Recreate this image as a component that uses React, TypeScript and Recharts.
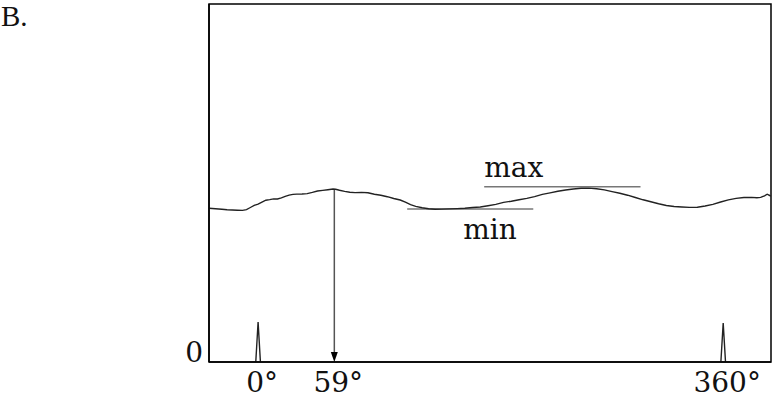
import React from 'react';
import { LineChart, Line, XAxis, YAxis, ReferenceArea, ReferenceLine, Customized } from 'recharts';

// angle (deg) of the encoder trace and its level
const traceDeg = [-38, -33, -28, -24, -20, -16, -12, -9, -6, -3, 0, 3, 6, 9, 12, 15, 18, 21, 24, 27, 30, 34, 38, 42, 46, 50, 54, 58, 60, 63, 67, 71, 75, 80, 85, 90, 95, 100, 105, 110, 114, 118, 122, 127, 132, 137, 142, 148, 154, 160, 166, 172, 178, 184, 190, 196, 202, 208, 214, 220, 226, 232, 238, 244, 250, 256, 262, 268, 274, 280, 286, 292, 298, 304, 310, 316, 322, 328, 334, 340, 346, 352, 358, 364, 370, 376, 382, 386, 389, 392, 394, 396, 397];
const traceVal = [153.7, 153.2, 152.8, 152.3, 152.0, 151.8, 151.6, 152.4, 154.5, 156.6, 157.8, 159.9, 161.8, 162.4, 163.1, 163.0, 164.2, 165.6, 166.9, 167.6, 167.9, 168.0, 168.4, 169.6, 171.0, 171.6, 172.3, 173.0, 172.8, 171.8, 170.6, 169.7, 169.4, 169.6, 169.2, 167.8, 166.7, 165.3, 163.5, 162.0, 159.8, 157.3, 155.6, 154.2, 153.3, 152.8, 152.9, 153.1, 153.4, 153.8, 154.5, 155.0, 156.3, 157.6, 159.6, 160.8, 162.3, 163.6, 165.4, 167.6, 169.1, 170.7, 172.0, 173.0, 173.7, 173.9, 173.2, 172.1, 170.4, 168.8, 166.8, 164.5, 162.2, 160.3, 158.2, 156.5, 155.5, 155.0, 154.6, 154.8, 156.0, 157.6, 160.0, 162.1, 163.6, 164.5, 164.6, 164.3, 164.6, 166.2, 167.8, 166.5, 166.0];

// index pulses at 0 and 360 deg
const pulseDeg = [-1.8, 0, 1.8, 180, 358.2, 360, 361.8];
const pulseVal: (number | null)[] = [0, 40, 0, null, 0, 39, 0];

const tickDeg = [0, 59, 360];
const tickLabels = ['0°', '59°', '360°'];

const peakDeg = 59;
const maxLevel = 175.3;
const maxSpan = [175, 296];
const minLevel = 153;
const minSpan = [115.4, 213];

const trace = traceDeg.map((d, i) => ({ deg: d, v: traceVal[i] }));
const pulses = pulseDeg.map((d, i) => ({ deg: d, p: pulseVal[i] }));

const FONT = '"DejaVu Serif", serif';
const FS = 28;

const XTick = (props: any) => {
  const idx = tickDeg.indexOf(props.payload.value);
  return (
    <text x={props.x + 4} y={props.y + 30} textAnchor="middle" fontFamily={FONT} fontSize={FS} fill="#111">
      {tickLabels[idx]}
    </text>
  );
};

const YTick = (props: any) => (
  <text x={props.x - 6} y={props.y} textAnchor="end" fontFamily={FONT} fontSize={FS} fill="#111">
    {props.payload.value}
  </text>
);

const Arrow = (props: any) => {
  const { x1, y1, x2, y2 } = props;
  return (
    <g>
      <line x1={x1} y1={y1} x2={x2} y2={y2 - 9} stroke="#555" strokeWidth={1.5} />
      <polygon points={`${x2 - 3.5},${y2 - 10} ${x2 + 3.5},${y2 - 10} ${x2},${y2}`} fill="#000" />
    </g>
  );
};

const PanelTag = () => (
  <text x={1} y={26} fontFamily='"Liberation Serif", serif' fontSize={29} fill="#111">B.</text>
);

export default function App() {
  return (
    <div style={{ position: 'absolute', left: 0, top: 0, width: 772, height: 399, background: '#fff' }}>
      <LineChart width={772} height={399} margin={{ top: 4, right: 1, left: 0, bottom: 0 }}>
        <XAxis
          dataKey="deg"
          type="number"
          domain={[-38, 397]}
          allowDataOverflow
          ticks={tickDeg}
          tick={<XTick />}
          tickLine={false}
          tickSize={0}
          tickMargin={0}
          height={37}
          axisLine={{ stroke: '#000', strokeWidth: 1.5 }}
        />
        <YAxis
          type="number"
          domain={[0, 358]}
          allowDataOverflow
          ticks={[0]}
          tick={<YTick />}
          tickLine={false}
          tickSize={0}
          tickMargin={0}
          width={209}
          axisLine={{ stroke: '#000', strokeWidth: 1.5 }}
        />
        <ReferenceArea x1={-38} x2={397} y1={0} y2={358} fill="none" stroke="#000" strokeWidth={1.5} />
        <ReferenceLine
          segment={[{ x: maxSpan[0], y: maxLevel }, { x: maxSpan[1], y: maxLevel }]}
          stroke="#777"
          strokeWidth={1.5}
          label={(p: any) => (
            <text x={p.viewBox.x} y={p.viewBox.y - 10} fontFamily={FONT} fontSize={FS} fill="#111">max</text>
          )}
        />
        <ReferenceLine
          segment={[{ x: minSpan[0], y: minLevel }, { x: minSpan[1], y: minLevel }]}
          stroke="#777"
          strokeWidth={1.5}
          label={(p: any) => (
            <text x={p.viewBox.x + 56} y={p.viewBox.y + 30} fontFamily={FONT} fontSize={FS} fill="#111">min</text>
          )}
        />
        <ReferenceLine
          segment={[{ x: peakDeg, y: traceVal[traceDeg.indexOf(58)] }, { x: peakDeg, y: 0 }]}
          shape={<Arrow />}
        />
        <Line data={trace} dataKey="v" type="linear" stroke="#222" strokeWidth={1.4} dot={false} isAnimationActive={false} />
        <Line data={pulses} dataKey="p" type="linear" stroke="#222" strokeWidth={1.4} dot={false} connectNulls={false} isAnimationActive={false} />
        <Customized component={PanelTag} />
      </LineChart>
    </div>
  );
}
